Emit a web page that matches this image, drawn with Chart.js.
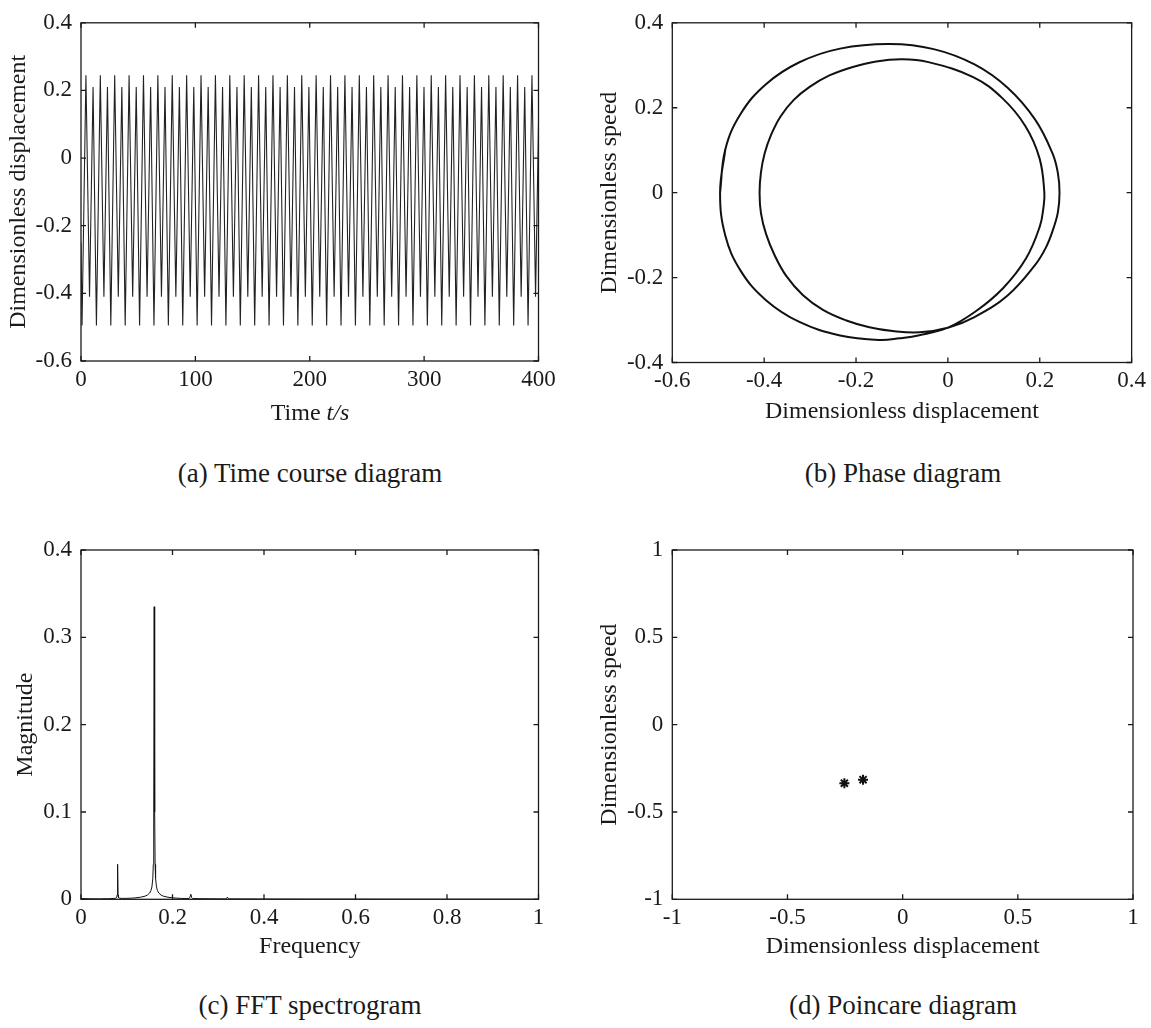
<!DOCTYPE html>
<html>
<head>
<meta charset="utf-8">
<script src="https://cdn.jsdelivr.net/npm/chart.js@4.4.1/dist/chart.umd.min.js"></script>
<style>
  body { margin: 0; background: #fff; }
  #page { position: relative; width: 1151px; height: 1028px; font-family: "Liberation Serif", "Times New Roman", serif; color: #1a1a1a; }
  canvas { position: absolute; }
  .cap { position: absolute; font-size: 27px; line-height: 27px; white-space: nowrap; transform: translateX(-50%); }
  .xt { position: absolute; font-size: 24px; line-height: 24px; white-space: nowrap; transform: translateX(-50%); }
</style>
</head>
<body>
<div id="page">
  <canvas id="timeChart" width="575" height="440" style="left:0px;top:0px"></canvas>
  <canvas id="phaseChart" width="576" height="440" style="left:575px;top:0px"></canvas>
  <canvas id="fftChart" width="575" height="460" style="left:0px;top:520px"></canvas>
  <canvas id="poincareChart" width="576" height="460" style="left:575px;top:520px"></canvas>
  <div class="xt" style="left:310px;top:400px">Time <i>t/s</i></div>
  <div class="cap" style="left:310px;top:460px">(a) Time course diagram</div>
  <div class="cap" style="left:903px;top:460px">(b) Phase diagram</div>
  <div class="cap" style="left:310px;top:992px">(c) FFT spectrogram</div>
  <div class="cap" style="left:903px;top:992px">(d) Poincare diagram</div>
</div>
<script>
// (a) time course: times of the turning points and their displacement
var timeS = [0,
  0.9, 4.3, 7.45, 10.55, 13.48, 16.88, 20.03, 23.13, 26.06, 29.46, 32.61, 35.71,
  38.64, 42.04, 45.19, 48.29, 51.22, 54.62, 57.77, 60.87, 63.8, 67.2, 70.35, 73.45,
  76.38, 79.78, 82.93, 86.03, 88.96, 92.36, 95.51, 98.61, 101.54, 104.94, 108.09, 111.19,
  114.12, 117.52, 120.67, 123.77, 126.7, 130.1, 133.25, 136.35, 139.28, 142.68, 145.83, 148.93,
  151.86, 155.26, 158.41, 161.51, 164.44, 167.84, 170.99, 174.09, 177.02, 180.42, 183.57, 186.67,
  189.6, 193.0, 196.15, 199.25, 202.18, 205.58, 208.73, 211.83, 214.76, 218.16, 221.31, 224.41,
  227.34, 230.74, 233.89, 236.99, 239.92, 243.32, 246.47, 249.57, 252.5, 255.9, 259.05, 262.15,
  265.08, 268.48, 271.63, 274.73, 277.66, 281.06, 284.21, 287.31, 290.24, 293.64, 296.79, 299.89,
  302.82, 306.22, 309.37, 312.47, 315.4, 318.8, 321.95, 325.05, 327.98, 331.38, 334.53, 337.63,
  340.56, 343.96, 347.11, 350.21, 353.14, 356.54, 359.69, 362.79, 365.72, 369.12, 372.27, 375.37,
  378.3, 381.7, 384.85, 387.95, 390.88, 394.28, 397.43, 400];
var displacement = [-0.25,
  -0.495, 0.245, -0.41, 0.21, -0.495, 0.245, -0.41, 0.21, -0.495, 0.245, -0.41, 0.21,
  -0.495, 0.245, -0.41, 0.21, -0.495, 0.245, -0.41, 0.21, -0.495, 0.245, -0.41, 0.21,
  -0.495, 0.245, -0.41, 0.21, -0.495, 0.245, -0.41, 0.21, -0.495, 0.245, -0.41, 0.21,
  -0.495, 0.245, -0.41, 0.21, -0.495, 0.245, -0.41, 0.21, -0.495, 0.245, -0.41, 0.21,
  -0.495, 0.245, -0.41, 0.21, -0.495, 0.245, -0.41, 0.21, -0.495, 0.245, -0.41, 0.21,
  -0.495, 0.245, -0.41, 0.21, -0.495, 0.245, -0.41, 0.21, -0.495, 0.245, -0.41, 0.21,
  -0.495, 0.245, -0.41, 0.21, -0.495, 0.245, -0.41, 0.21, -0.495, 0.245, -0.41, 0.21,
  -0.495, 0.245, -0.41, 0.21, -0.495, 0.245, -0.41, 0.21, -0.495, 0.245, -0.41, 0.21,
  -0.495, 0.245, -0.41, 0.21, -0.495, 0.245, -0.41, 0.21, -0.495, 0.245, -0.41, 0.21,
  -0.495, 0.245, -0.41, 0.21, -0.495, 0.245, -0.41, 0.21, -0.495, 0.245, -0.41, 0.21,
  -0.495, 0.245, -0.41, 0.21, -0.495, 0.245, -0.41, 0.1];

// (b) phase orbit, traced in order around the closed curve (last point repeats the start so it closes smoothly)
var phaseX = [
  -0.496, -0.4845, -0.4507, -0.3961, -0.3233, -0.2347, -0.1265, -0.0309, 0.058, 0.13, 0.19, 0.228, 0.2395, 0.243,
  0.2395, 0.228, 0.213, 0.19, 0.13, 0.058, 0.0, -0.062, -0.120, -0.171, -0.221, -0.272, -0.316, -0.352, -0.377, -0.396, -0.407, -0.410,
  -0.407, -0.399, -0.385, -0.364, -0.336, -0.301, -0.258, -0.207, -0.156, -0.100, -0.045, 0.055, 0.119, 0.1685, 0.1994, 0.21,
  0.208, 0.2, 0.17, 0.12, 0.06, 0.0, -0.062, -0.105, -0.149, -0.2347, -0.3233, -0.3961, -0.4507, -0.4845, -0.496, -0.4845];
var phaseV = [
  0, 0.1024, 0.1864, 0.2554, 0.3071, 0.3392, 0.350, 0.338, 0.302, 0.247, 0.172, 0.092, 0.046, 0,
  -0.046, -0.09, -0.13, -0.17, -0.242, -0.293, -0.318, -0.329, -0.326, -0.317, -0.301, -0.276, -0.241, -0.196, -0.148, -0.097, -0.048, 0,
  0.048, 0.092, 0.136, 0.180, 0.218, 0.249, 0.276, 0.296, 0.309, 0.314, 0.308, 0.272, 0.222, 0.157, 0.0813, 0,
  -0.035, -0.08, -0.155, -0.225, -0.28, -0.318, -0.336, -0.343, -0.347, -0.3362, -0.3045, -0.2532, -0.1848, -0.1016, 0, 0.1024];

// (c) spectrum
var fftFreq = [0, 0.02, 0.04, 0.06, 0.07, 0.075, 0.078, 0.079, 0.08, 0.081, 0.082, 0.085, 0.09, 0.1, 0.11, 0.12,
  0.13, 0.14, 0.145, 0.15, 0.153, 0.155, 0.157, 0.158, 0.159, 0.16, 0.161, 0.162, 0.163, 0.165, 0.167, 0.17,
  0.175, 0.18, 0.19, 0.2, 0.21, 0.22, 0.23, 0.236, 0.238, 0.24, 0.242, 0.244, 0.26, 0.28, 0.3, 0.316,
  0.318, 0.32, 0.322, 0.324, 0.35, 0.4, 0.5, 0.6, 0.7, 0.8, 0.9, 1];
var fftMag = [0.0008, 0.0006, 0.0005, 0.0007, 0.0009, 0.0012, 0.002, 0.005, 0.0401, 0.005, 0.002, 0.0012, 0.001, 0.0011, 0.0013, 0.0017,
  0.0024, 0.0036, 0.0048, 0.0072, 0.0102, 0.0142, 0.024, 0.04, 0.1, 0.335, 0.1, 0.04, 0.024, 0.0142, 0.0102, 0.0072,
  0.0048, 0.0036, 0.0024, 0.0017, 0.0013, 0.001, 0.0009, 0.001, 0.002, 0.0058, 0.002, 0.0009, 0.0007, 0.0006, 0.0005, 0.0005,
  0.001, 0.0025, 0.001, 0.0005, 0.0004, 0.0003, 0.0002, 0.0002, 0.0001, 0.0001, 0.0001, 0.0001];

// (d) Poincare section points
var poincareX = [-0.253, -0.172];
var poincareV = [-0.335, -0.315];

var FONT = 'Liberation Serif';
var INK = '#1a1a1a';

function toPoints(xs, ys) {
  return xs.map(function (x, i) { return { x: x, y: ys[i] }; });
}

// closed box with short inward ticks on all four sides
var boxTicks = {
  id: 'boxTicks',
  afterDraw: function (chart) {
    var ctx = chart.ctx, a = chart.chartArea, sx = chart.scales.x, sy = chart.scales.y;
    ctx.save();
    ctx.strokeStyle = INK;
    ctx.lineWidth = 1.3;
    ctx.strokeRect(a.left, a.top, a.right - a.left, a.bottom - a.top);
    ctx.beginPath();
    sx.ticks.forEach(function (t) {
      var p = sx.getPixelForValue(t.value);
      ctx.moveTo(p, a.bottom); ctx.lineTo(p, a.bottom - 5);
      ctx.moveTo(p, a.top); ctx.lineTo(p, a.top + 5);
    });
    sy.ticks.forEach(function (t) {
      var p = sy.getPixelForValue(t.value);
      ctx.moveTo(a.left, p); ctx.lineTo(a.left + 5, p);
      ctx.moveTo(a.right, p); ctx.lineTo(a.right - 5, p);
    });
    ctx.stroke();
    ctx.restore();
  }
};

function fmt(v) { return String(Number(v.toFixed(2))); }

function makeChart(id, datasets, o) {
  var cv = document.getElementById(id);
  return new Chart(cv, {
    type: 'scatter',
    data: { datasets: datasets },
    options: {
      responsive: false,
      animation: false,
      devicePixelRatio: 1,
      layout: { padding: { left: 0, top: o.top, right: cv.width - o.right, bottom: 0 } },
      plugins: { legend: { display: false }, tooltip: { enabled: false } },
      scales: {
        x: {
          type: 'linear', min: o.xMin, max: o.xMax,
          afterFit: function (s) { s.height = cv.height - o.bottom; },
          grid: { display: false, drawTicks: false },
          border: { display: false },
          ticks: { stepSize: o.xStep, autoSkip: false, maxRotation: 0, padding: 5,
                   color: INK, font: { family: FONT, size: 23 }, callback: fmt },
          title: { display: !!o.xTitle, text: o.xTitle || '', color: INK,
                   font: { family: FONT, size: 24 }, padding: { top: 0, bottom: o.xTitlePad || 0 } }
        },
        y: {
          type: 'linear', min: o.yMin, max: o.yMax,
          afterFit: function (s) { s.width = o.left; },
          grid: { display: false, drawTicks: false },
          border: { display: false },
          ticks: { stepSize: o.yStep, autoSkip: false, padding: 9,
                   color: INK, font: { family: FONT, size: 23 }, callback: fmt },
          title: { display: true, text: o.yTitle, color: INK,
                   font: { family: FONT, size: 24 }, padding: { top: o.yTitlePad, bottom: 0 } }
        }
      }
    },
    plugins: [boxTicks]
  });
}

makeChart('timeChart', [{
  data: toPoints(timeS, displacement), showLine: true,
  borderColor: '#222', borderWidth: 1.1, pointRadius: 0, tension: 0
}], { left: 81, right: 538.5, top: 14.3, bottom: 361,
      xMin: 0, xMax: 400, xStep: 100, yMin: -0.6, yMax: 0.4, yStep: 0.2,
      yTitle: 'Dimensionless displacement', yTitlePad: 4 });

makeChart('phaseChart', [{
  data: toPoints(phaseX, phaseV), showLine: true,
  borderColor: '#111', borderWidth: 2, pointRadius: 0, tension: 0.4
}], { left: 97.3, right: 558, top: 14.3, bottom: 362.5,
      xMin: -0.6, xMax: 0.4, xStep: 0.2, yMin: -0.4, yMax: 0.4, yStep: 0.2,
      xTitle: 'Dimensionless displacement', xTitlePad: 13.6,
      yTitle: 'Dimensionless speed', yTitlePad: 20.6 });

makeChart('fftChart', [{
  data: toPoints(fftFreq, fftMag), showLine: true,
  borderColor: '#111', borderWidth: 1, pointRadius: 0, tension: 0
}], { left: 81, right: 538.5, top: 30, bottom: 379.3,
      xMin: 0, xMax: 1, xStep: 0.2, yMin: 0, yMax: 0.4, yStep: 0.1,
      xTitle: 'Frequency', xTitlePad: 18.6,
      yTitle: 'Magnitude', yTitlePad: 11.6 });

makeChart('poincareChart', [{
  data: toPoints(poincareX, poincareV), showLine: false,
  pointStyle: 'star', pointRadius: 5, borderWidth: 2, borderColor: '#111', backgroundColor: '#111'
}], { left: 97.3, right: 558, top: 30, bottom: 379.3,
      xMin: -1, xMax: 1, xStep: 0.5, yMin: -1, yMax: 1, yStep: 0.5,
      xTitle: 'Dimensionless displacement', xTitlePad: 18.6,
      yTitle: 'Dimensionless speed', yTitlePad: 20.6 });
</script>
</body>
</html>
